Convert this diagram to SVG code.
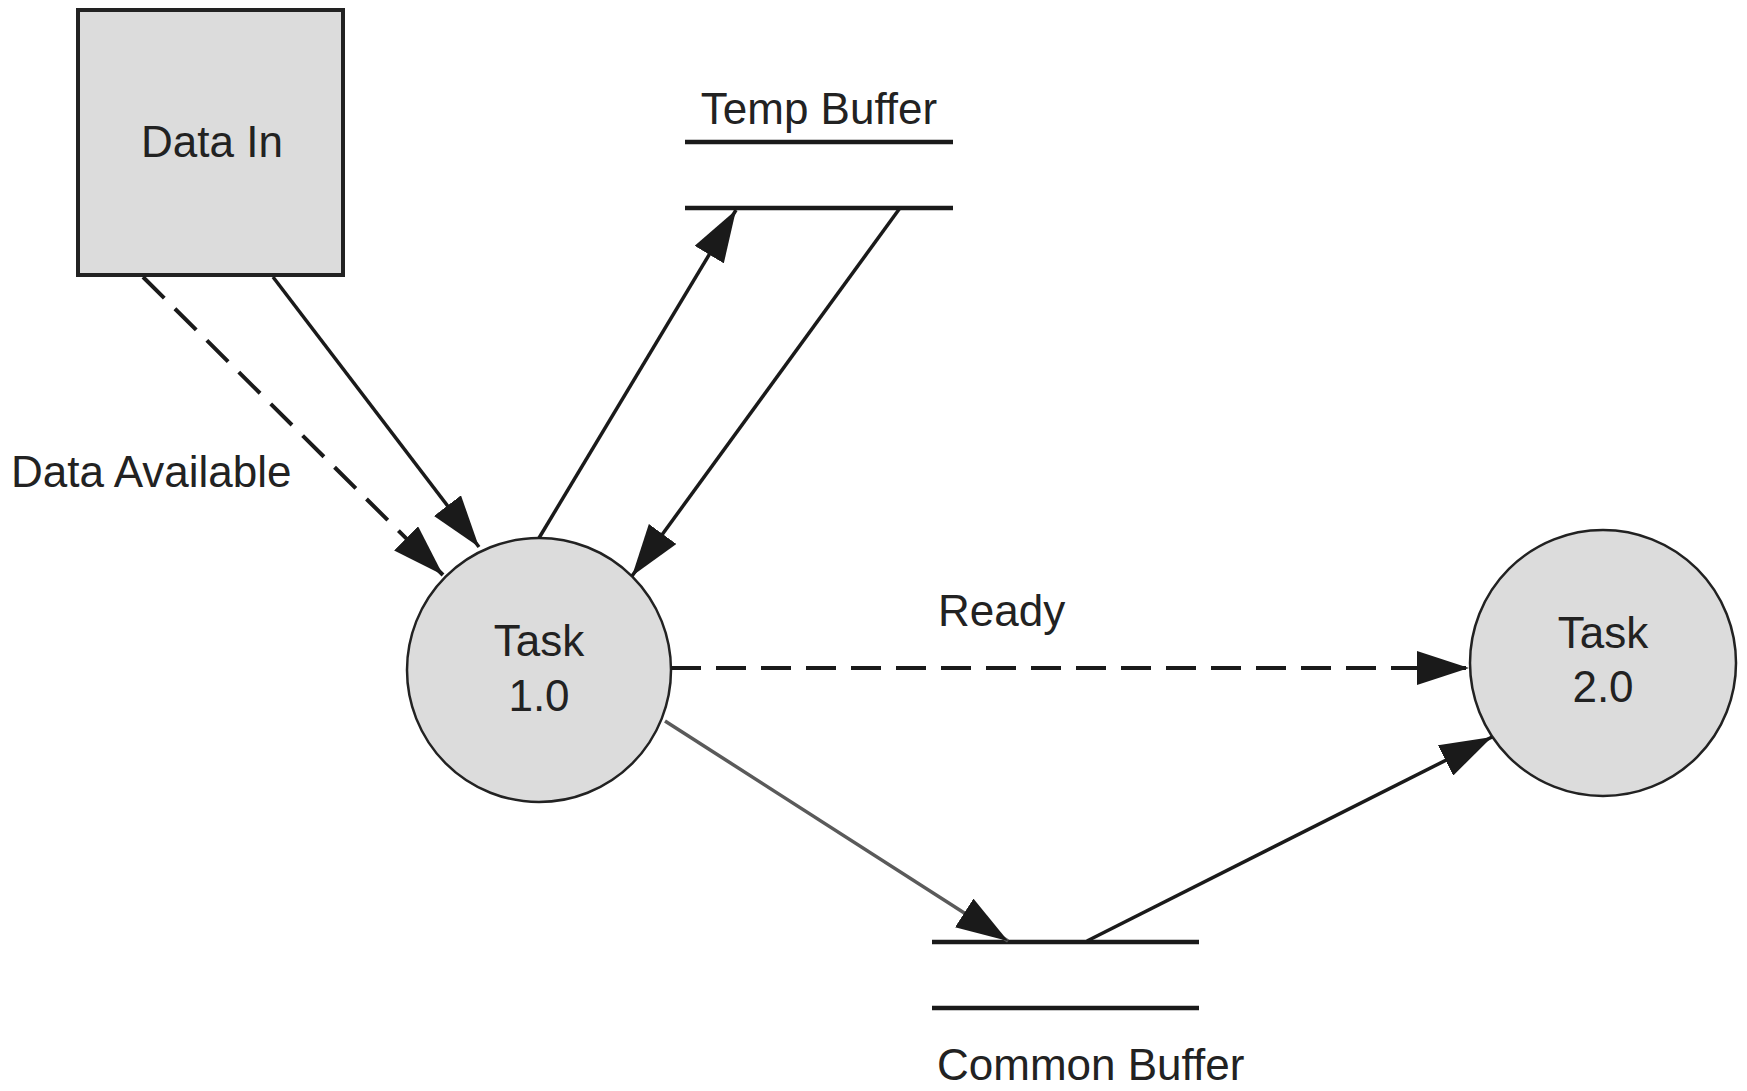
<svg xmlns="http://www.w3.org/2000/svg" width="1747" height="1091" viewBox="0 0 1747 1091">
  <defs>
    <style>
      text { font-family: "Liberation Sans", Arial, sans-serif; font-size: 44px; fill: #222; }
      .node { fill: #dcdcdc; stroke: #222; }
      .store { stroke: #1a1a1a; stroke-width: 4.5; fill: none; }
      .flow { fill: none; stroke: #1a1a1a; stroke-width: 3.5; }
      .ctrl { fill: none; stroke: #1a1a1a; stroke-width: 4; stroke-dasharray: 30 15; }
      .grey { stroke: #5a5a5a; }
    </style>
    <marker id="arrow" viewBox="0 0 52 34" markerWidth="52" markerHeight="34" refX="52" refY="17" orient="auto" markerUnits="userSpaceOnUse">
      <path d="M0,0 L52,17 L0,34 Z" fill="#1a1a1a"/>
    </marker>
  </defs>
  <rect width="1747" height="1091" fill="#fff"/>

  <!-- external entity -->
  <g id="data-in">
    <rect class="node" x="78" y="10" width="265" height="265" stroke-width="4"/>
    <text x="212" y="157" text-anchor="middle">Data In</text>
  </g>

  <!-- data stores -->
  <g id="temp-buffer">
    <line class="store" x1="685" y1="142" x2="953" y2="142"/>
    <line class="store" x1="685" y1="208" x2="953" y2="208"/>
    <text x="819" y="124" text-anchor="middle">Temp Buffer</text>
  </g>
  <g id="common-buffer">
    <line class="store" x1="932" y1="942" x2="1199" y2="942"/>
    <line class="store" x1="932" y1="1008" x2="1199" y2="1008"/>
    <text x="937" y="1080">Common Buffer</text>
  </g>

  <!-- processes -->
  <g id="task-1">
    <circle class="node" cx="539" cy="670" r="132" stroke-width="2.5"/>
    <text x="539" y="656" text-anchor="middle">Task</text>
    <text x="539" y="711" text-anchor="middle">1.0</text>
  </g>
  <g id="task-2">
    <circle class="node" cx="1603" cy="663" r="133" stroke-width="2.5"/>
    <text x="1603" y="648" text-anchor="middle">Task</text>
    <text x="1603" y="702" text-anchor="middle">2.0</text>
  </g>

  <!-- flows -->
  <g id="connectors">
    <line class="ctrl" x1="143" y1="277" x2="443" y2="575" marker-end="url(#arrow)"/>
    <line class="flow" x1="273" y1="277" x2="479" y2="547" marker-end="url(#arrow)"/>
    <line class="flow" x1="539" y1="538" x2="736" y2="210" marker-end="url(#arrow)"/>
    <line class="flow" x1="900" y1="208" x2="632" y2="576" marker-end="url(#arrow)"/>
    <line class="ctrl" x1="671" y1="668" x2="1469" y2="668" marker-end="url(#arrow)"/>
    <line class="flow grey" x1="665" y1="721" x2="1008" y2="941" marker-end="url(#arrow)"/>
    <line class="flow" x1="1087" y1="941" x2="1492" y2="737" marker-end="url(#arrow)"/>
    <text x="11" y="487">Data Available</text>
    <text x="938" y="626">Ready</text>
  </g>
</svg>
